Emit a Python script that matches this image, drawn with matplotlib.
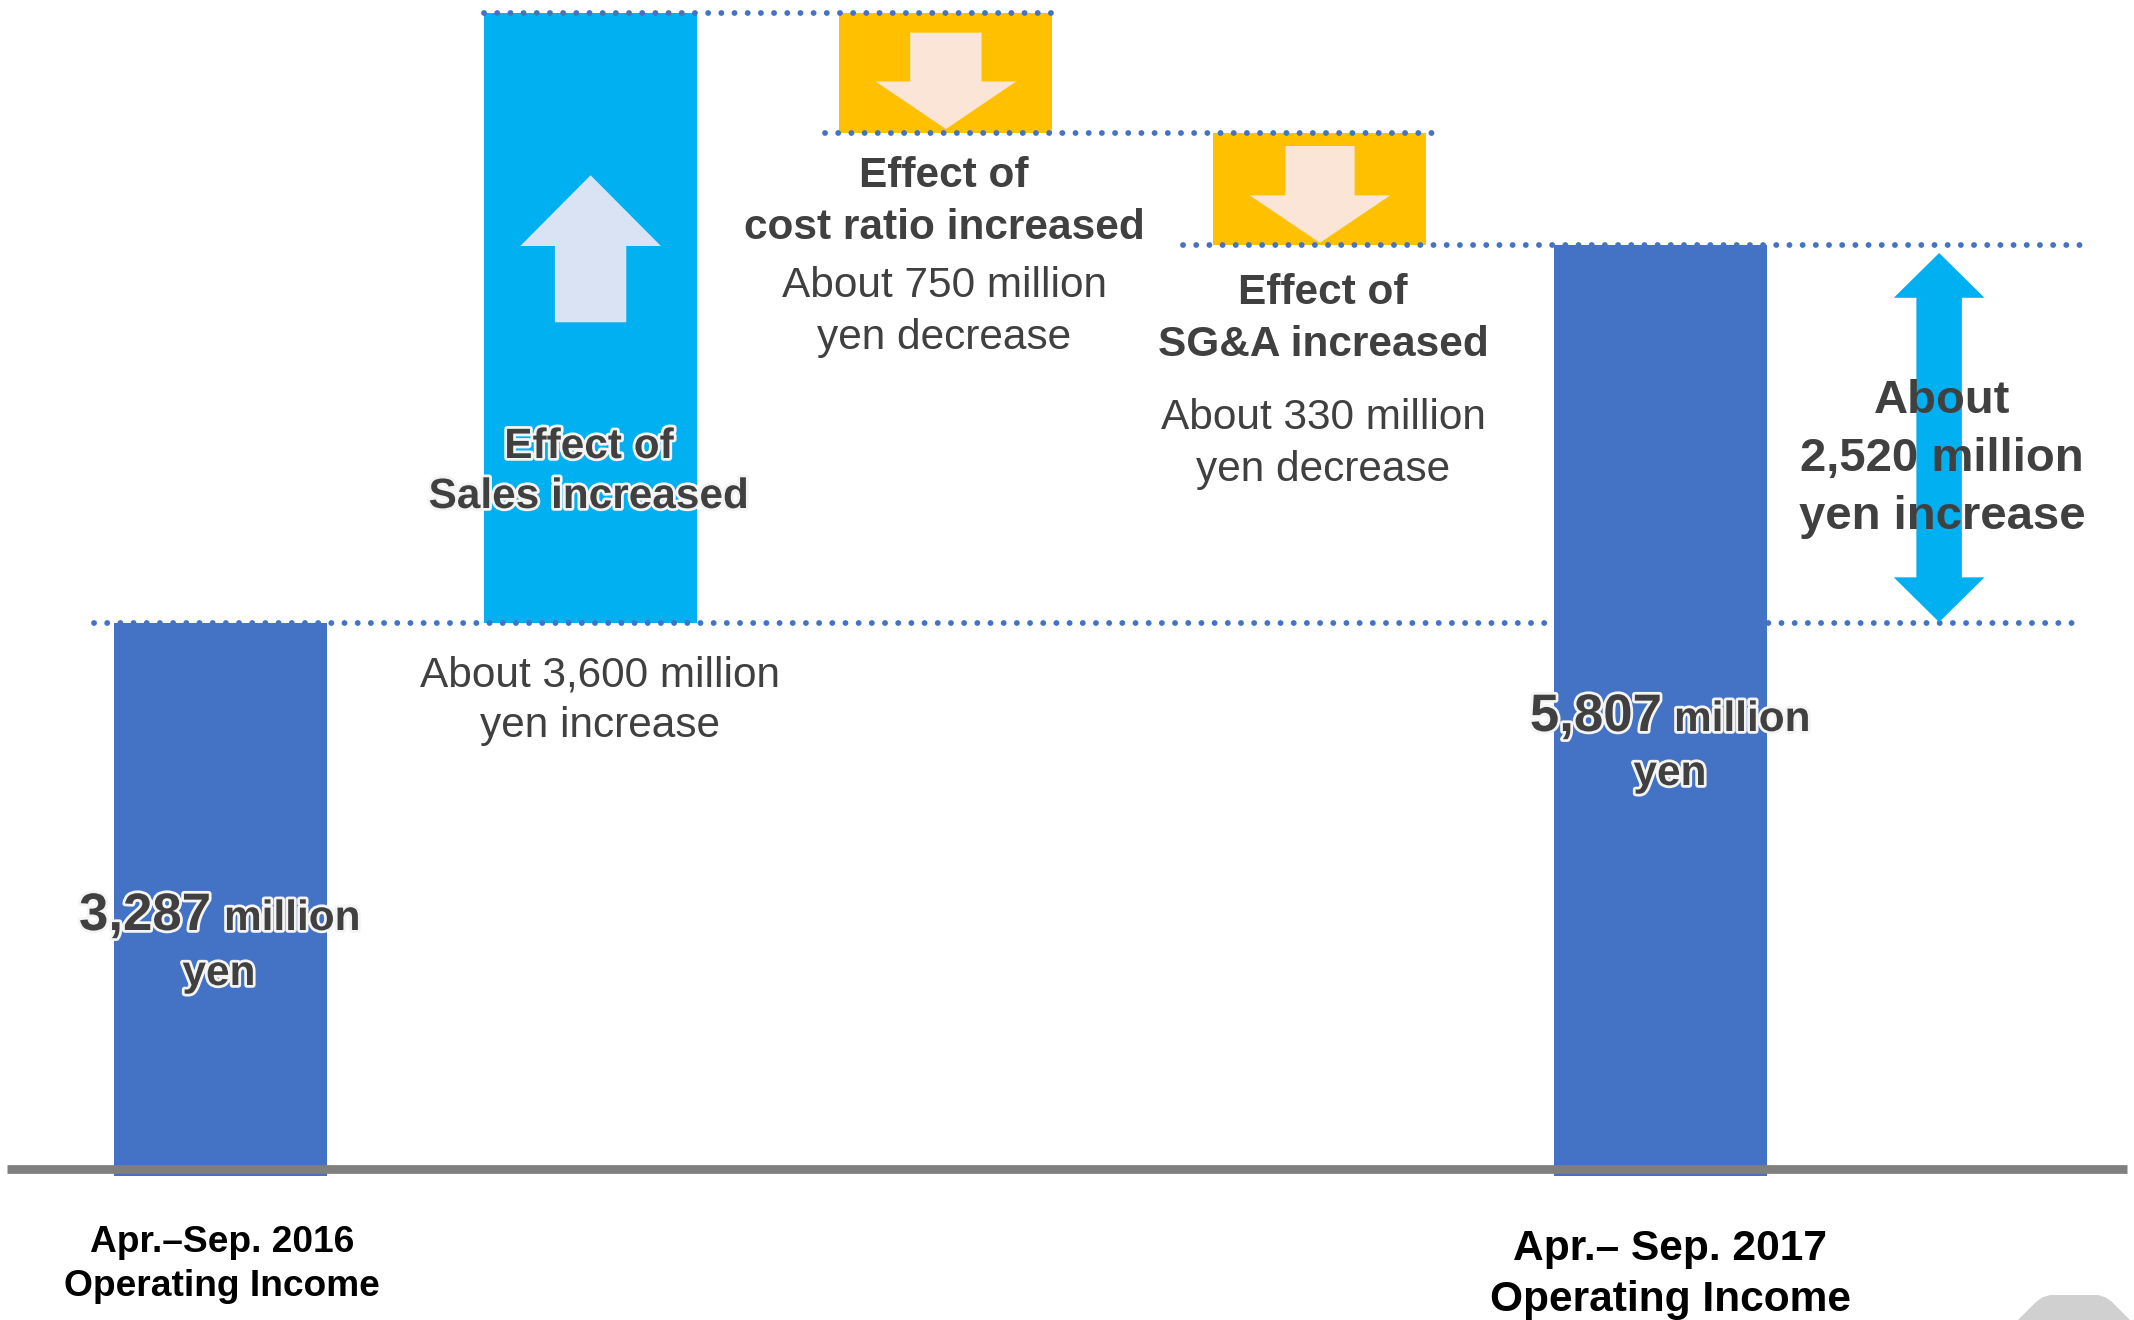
import matplotlib
matplotlib.use("Agg")
import matplotlib.pyplot as plt
from matplotlib.patches import Polygon
import matplotlib.patheffects as pe

plt.rcParams['font.family'] = ['Liberation Sans', 'DejaVu Sans']

# ---------------- data (million yen, as drawn) ----------------
categories = ["Apr.–Sep. 2016\nOperating Income",
              "Effect of\nSales increased",
              "Effect of\ncost ratio increased",
              "Effect of\nSG&A increased",
              "Apr.– Sep. 2017\nOperating Income"]
start_value = 3287
changes = [3680, -725, -675]
end_value = 5567
total_numbers = ["3,287", "5,807"]
change_labels = ["About 3,600 million\nyen increase",
                 "About 750 million\nyen decrease",
                 "About 330 million\nyen decrease"]
diff_label = ["About", "2,520 million", "yen increase"]

# ---------------- style ----------------
BLUE = "#4472C4"
CYAN = "#00B0F0"
ORANGE = "#FFC000"
UP_ARROW = "#DAE3F3"
DOWN_ARROW = "#FBE5D6"
GRAY = "#7F7F7F"
TXT = "#404040"

W, H = 2134, 1320
fig = plt.figure(figsize=(W / 100, H / 100), dpi=100)
ax = fig.add_axes([0, 0, 1, 1])
ax.set_xlim(-0.6125, 5.3153)
ax.set_ylim(-916, 7045)
ax.axis("off")

xpos = [0, 1.028, 2.015, 3.054, 4.0]
bw = 0.592
overhang = 45  # totals bars poke slightly below the baseline

# waterfall geometry
bottoms, heights, colors = [-overhang], [start_value + overhang], [BLUE]
run = start_value
for c in changes:
    if c >= 0:
        bottoms.append(run); heights.append(c); colors.append(CYAN)
    else:
        bottoms.append(run + c); heights.append(-c); colors.append(ORANGE)
    run += c
bottoms.append(-overhang); heights.append(end_value + overhang); colors.append(BLUE)

for i in range(5):
    ax.bar(xpos[i], heights[i], bottom=bottoms[i], width=bw, color=colors[i],
           zorder=3 if i == 4 else 1, linewidth=0)

tops = [b + h for b, h in zip(bottoms, heights)]

# dotted connector lines
dot = dict(color=BLUE, lw=4.2, linestyle=(0, (0.01, 2.25)),
           dash_capstyle="round", zorder=2)
right_end = 5.16
ax.plot([xpos[1] - bw / 2, xpos[2] + bw / 2], [tops[1]] * 2, **dot)
ax.plot([xpos[2] - bw / 2 - 0.04, xpos[3] + bw / 2 + 0.015], [bottoms[2]] * 2, **dot)
ax.plot([xpos[3] - bw / 2 - 0.083, right_end + 0.02], [bottoms[3]] * 2, **dot)
ax.plot([xpos[0] - bw / 2 - 0.055, right_end], [tops[0]] * 2, **dot)

# baseline
ax.plot([-0.593, 5.295], [-8, -8], color=GRAY, lw=6.3, zorder=6, solid_capstyle="butt")


def block_arrow(xc, y_tail, y_base, y_tip, shaft_hw, head_hw, color):
    pts = [(xc - shaft_hw, y_tail), (xc + shaft_hw, y_tail), (xc + shaft_hw, y_base),
           (xc + head_hw, y_base), (xc, y_tip), (xc - head_hw, y_base),
           (xc - shaft_hw, y_base)]
    ax.add_patch(Polygon(pts, closed=True, facecolor=color, edgecolor="none", zorder=4))


# up arrow in sales bar
h1 = heights[1]
block_arrow(xpos[1], bottoms[1] + 0.493 * h1, bottoms[1] + 0.618 * h1,
            bottoms[1] + 0.734 * h1, 0.335 * bw / 2, 0.66 * bw / 2, UP_ARROW)
# down arrows in cost bars
for i, (f1, f2, f3, sw) in zip([2, 3], [(0.164, 0.57, 0.966, 0.335),
                                         (0.115, 0.556, 0.98, 0.325)]):
    h = heights[i]
    block_arrow(xpos[i], tops[i] - f1 * h, tops[i] - f2 * h, tops[i] - f3 * h,
                sw * bw / 2, 0.66 * bw / 2, DOWN_ARROW)

# double arrow on right
dx = 4.774
tip_lo, tip_hi = start_value + 6, end_value - 48
hl = 270
shw, hhw = 0.0632, 0.126
pts = [(dx, tip_hi), (dx + hhw, tip_hi - hl), (dx + shw, tip_hi - hl),
       (dx + shw, tip_lo + hl), (dx + hhw, tip_lo + hl), (dx, tip_lo),
       (dx - hhw, tip_lo + hl), (dx - shw, tip_lo + hl), (dx - shw, tip_hi - hl),
       (dx - hhw, tip_hi - hl)]
ax.add_patch(Polygon(pts, closed=True, facecolor=CYAN, edgecolor="none", zorder=4))


# ---------------- text ----------------
def T(xpx, ypx, s, size, bold=True, color=TXT, ha="center", glow=False):
    t = fig.text(xpx / W, 1 - ypx / H, s, fontsize=size,
                 fontweight="bold" if bold else "normal", color=color,
                 ha=ha, va="baseline", zorder=10)
    if glow:
        t.set_path_effects([pe.withStroke(linewidth=4, foreground="#f4f4f4")])
    return t


# start bar label
T(211, 930, total_numbers[0], 38, ha="right", glow=True)
T(224, 930, "million", 30.5, ha="left", glow=True)
T(219, 985, "yen", 30.5, glow=True)
# end bar label
T(1662, 731, total_numbers[1], 38, ha="right", glow=True)
T(1674, 731, "million", 30.5, ha="left", glow=True)
T(1670, 785, "yen", 30.5, glow=True)

# sales effect
s1, s2 = categories[1].split("\n")
T(589, 458, s1, 30.5, glow=True)
T(589, 508, s2, 30.5, glow=True)
a1, a2 = change_labels[0].split("\n")
T(600, 686, a1, 30.5, bold=False)
T(600, 737, a2, 30.5, bold=False)

# cost ratio effect
s1, s2 = categories[2].split("\n")
T(944, 187, s1, 30.5)
T(944, 239, s2, 30.5)
a1, a2 = change_labels[1].split("\n")
T(944, 297, a1, 30.5, bold=False)
T(944, 349, a2, 30.5, bold=False)

# SG&A effect
s1, s2 = categories[3].split("\n")
T(1323, 304, s1, 30.5)
T(1323, 356, s2, 30.5)
a1, a2 = change_labels[2].split("\n")
T(1323, 429, a1, 30.5, bold=False)
T(1323, 481, a2, 30.5, bold=False)

# overall difference
for ypx, s in zip([413, 471, 529], diff_label):
    T(1942, ypx, s, 34)

# period labels
s1, s2 = categories[0].split("\n")
T(222, 1252, s1, 26.7, color="black")
T(222, 1296, s2, 26.7, color="black")
s1, s2 = categories[4].split("\n")
T(1670, 1260, s1, 30.6, color="black")
T(1670, 1311, s2, 30.6, color="black")

# small grey shape at bottom-right corner (partially visible slide icon)
shape_px = [(2016, 1322), (2036, 1302), (2042, 1297.5), (2050, 1295), (2098, 1295),
            (2106, 1297.5), (2112, 1302), (2132, 1322)]
fig.patches.append(Polygon([(x / W, 1 - y / H) for x, y in shape_px], closed=True,
                           transform=fig.transFigure, facecolor="#D0D0D0",
                           edgecolor="none", zorder=0))

fig.savefig("out.png", dpi=100, facecolor="white")
